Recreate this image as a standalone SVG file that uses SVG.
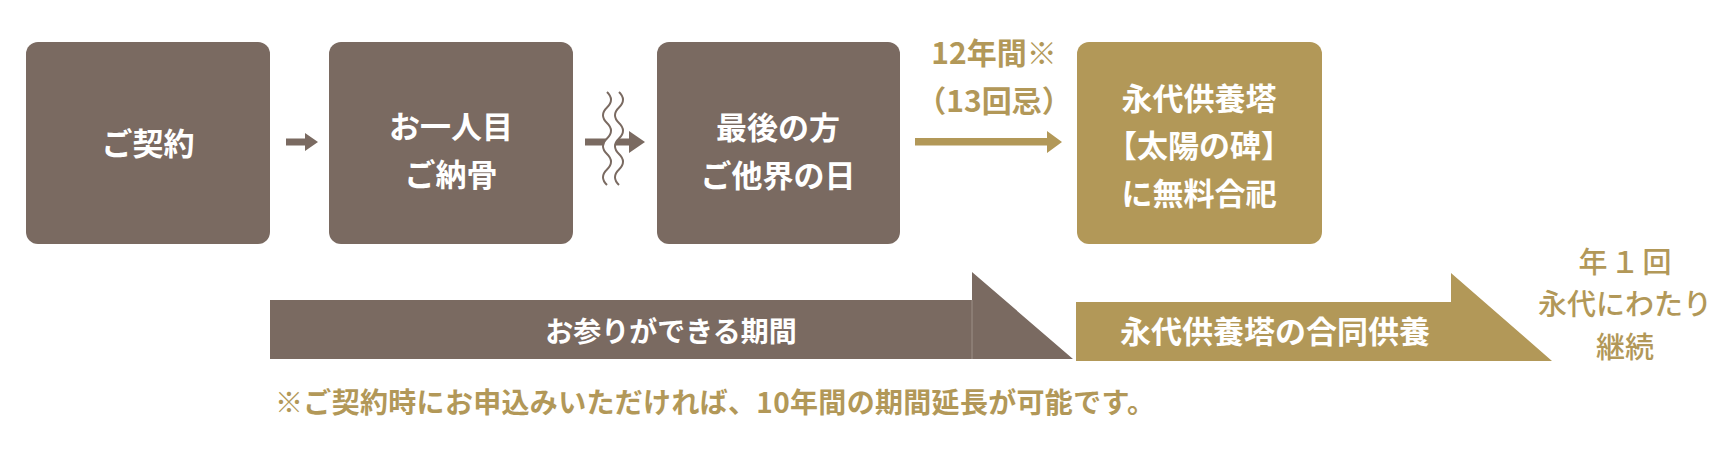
<svg xmlns="http://www.w3.org/2000/svg" width="1732" height="452" viewBox="0 0 1732 452">
<style>
text{font-family:"Noto Sans CJK JP","Noto Sans",sans-serif;font-weight:bold;}
.brown{fill:#7A6A61;}
.gold{fill:#B29858;}
.wt{fill:#FFFFFF;font-size:31px;text-anchor:middle;}
.gt{fill:#B29858;font-size:30px;text-anchor:middle;}
.bar{fill:#FFFFFF;text-anchor:middle;}
.note{fill:#B29858;font-size:28px;}
.right{fill:#B29858;font-size:29px;font-weight:500;text-anchor:middle;}
</style>
<rect width="1732" height="452" fill="#FFFFFF"/>
<g id="node-contract">
<rect class="brown" x="26" y="42" width="244" height="202" rx="12"/>
<text class="wt" x="148" y="155">ご契約</text>
</g>
<g id="node-first">
<rect class="brown" x="329" y="42" width="244" height="202" rx="12"/>
<text class="wt" x="451" y="138">お一人目</text>
<text class="wt" x="451" y="186">ご納骨</text>
</g>
<g id="node-last">
<rect class="brown" x="657" y="42" width="243" height="202" rx="12"/>
<text class="wt" x="778" y="139">最後の方</text>
<text class="wt" x="778" y="187">ご他界の日</text>
</g>
<g id="node-tower">
<rect class="gold" x="1077" y="42" width="245" height="202" rx="12"/>
<text class="wt" x="1199" y="110">永代供養塔</text>
<text class="wt" x="1199" y="157">【太陽の碑】</text>
<text class="wt" x="1199" y="205">に無料合祀</text>
</g>
<g id="connectors">
<polygon class="brown" points="286,138.5 305,138.5 305,133 318,142 305,151 305,145.5 286,145.5"/>
<polygon class="brown" points="585,138.5 629,138.5 629,131 645,142 629,153 629,145.5 585,145.5"/>
<path d="M613,92 q8,7.75 0,15.5 t0,15.5 t0,15.5 t0,15.5 t0,15.5 t0,15.5" fill="none" stroke="#FFFFFF" stroke-width="10"/>
<path d="M607,92 q8,7.75 0,15.5 t0,15.5 t0,15.5 t0,15.5 t0,15.5 t0,15.5" fill="none" stroke="#7A6A61" stroke-width="2"/>
<path d="M619,92 q8,7.75 0,15.5 t0,15.5 t0,15.5 t0,15.5 t0,15.5 t0,15.5" fill="none" stroke="#7A6A61" stroke-width="2"/>
<polygon class="gold" points="915,138 1047,138 1047,131 1062,142 1047,153 1047,145.5 915,145.5"/>
<text class="gt" x="994" y="64">12年間※</text>
<text class="gt" x="994" y="112">（13回忌）</text>
</g>
<g id="bar-visit">
<polygon class="brown" points="270,300 972,300 972,272 1073,359 270,359"/>
<line x1="972" y1="300" x2="972" y2="359" stroke="#9C8F87" stroke-width="1"/>
<text class="bar" x="671" y="342" font-size="28">お参りができる期間</text>
</g>
<g id="bar-memorial">
<polygon class="gold" points="1076,302 1451,302 1451,273 1552,361 1076,361"/>
<text class="bar" x="1275" y="343" font-size="31">永代供養塔の合同供養</text>
</g>
<g id="annual">
<text class="right" x="1626.5" y="273" letter-spacing="3">年１回</text>
<text class="right" x="1625" y="315">永代にわたり</text>
<text class="right" x="1625" y="358">継続</text>
</g>
<text class="note" x="275" y="413" textLength="880">※ご契約時にお申込みいただければ、10年間の期間延長が可能です。</text>
</svg>
